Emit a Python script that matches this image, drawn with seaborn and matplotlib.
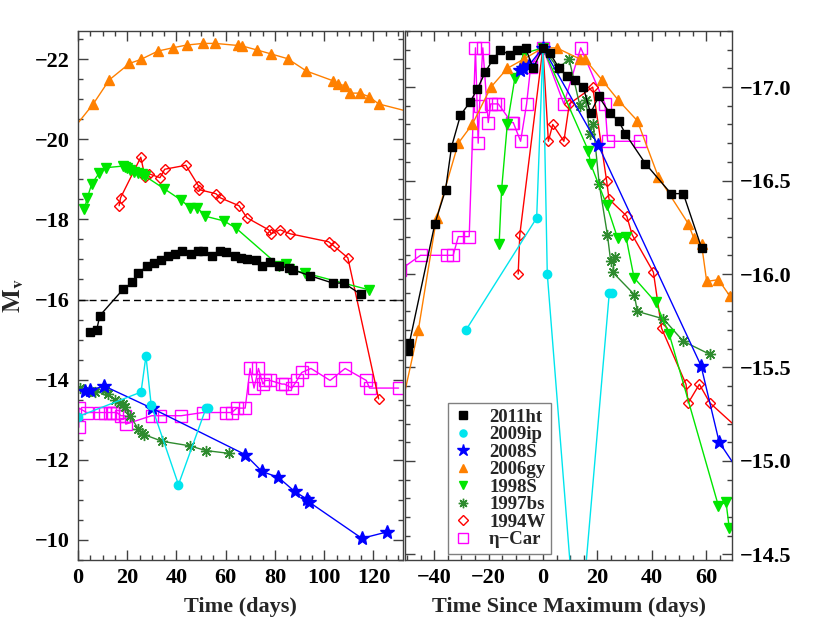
import numpy as np
import pandas as pd
import matplotlib
matplotlib.use("Agg")
import matplotlib.pyplot as plt
import seaborn as sns
from matplotlib.lines import Line2D
from matplotlib.ticker import MultipleLocator
from matplotlib.font_manager import FontProperties

# ---- left panel: absolute light curves (days, M_v) ----
ht_t = [4.9, 7.6, 8.9, 18.4, 22.1, 24.5, 27.9, 31.0, 33.6, 36.7, 39.4, 42.4, 45.7, 48.6, 50.9,
        54.3, 57.5, 60.2, 63.6, 66.3, 68.7, 72.2, 74.7, 78.0, 81.7, 85.8, 87.3, 94.4, 103.5, 108.0, 114.8]
ht_m = [-15.18, -15.25, -15.60, -16.26, -16.43, -16.66, -16.83, -16.91, -16.98, -17.08, -17.14, -17.20,
        -17.14, -17.20, -17.20, -17.08, -17.20, -17.18, -17.08, -17.04, -17.02, -16.98, -16.84, -16.93,
        -16.84, -16.78, -16.74, -16.59, -16.41, -16.41, -16.13]

ip_t = [0.1, 25.6, 27.6, 29.7, 40.8, 52.0, 53.0]
ip_m = [-13.08, -13.69, -14.59, -13.38, -11.38, -13.29, -13.29]

s08_t = [2.9, 4.9, 10.7, 29.9, 67.9, 74.7, 81.4, 88.0, 93.2, 94.0, 115.3, 125.5]
s08_m = [-13.71, -13.74, -13.84, -13.29, -12.13, -11.71, -11.56, -11.21, -11.01, -10.94, -10.04, -10.20]

gy_t = [-2.0, 6.2, 12.7, 20.9, 25.5, 32.5, 38.4, 44.2, 50.8, 55.7, 64.8, 66.5, 72.5, 78.3, 85.1,
        92.8, 103.5, 105.6, 108.4, 110.6, 114.4, 118.3, 122.1, 140.0]
gy_m = [-20.25, -20.88, -21.48, -21.89, -21.99, -22.20, -22.28, -22.35, -22.39, -22.39, -22.34, -22.33,
        -22.23, -22.13, -22.01, -21.70, -21.46, -21.37, -21.34, -21.15, -21.15, -21.06, -20.88, -20.60]

s98_t = [2.6, 3.8, 5.6, 8.7, 11.4, 18.4, 19.1, 20.0, 21.1, 22.9, 24.5, 25.9, 27.2, 35.1, 41.9, 45.5,
         48.5, 51.6, 59.3, 64.2, 81.7, 84.4, 85.5, 92.3, 118.3]
s98_m = [-18.26, -18.54, -18.89, -19.16, -19.29, -19.33, -19.31, -19.27, -19.23, -19.18, -19.16, -19.13,
         -19.08, -18.76, -18.48, -18.29, -18.29, -18.08, -17.96, -17.78, -16.84, -16.88, -16.76, -16.66, -16.24]

bs_t = [0.8, 4.9, 6.9, 11.0, 12.3, 15.0, 17.1, 18.4, 19.1, 21.1, 24.5, 25.9, 26.8, 34.3, 45.3, 52.0, 61.5]
bs_m = [-13.79, -13.71, -13.68, -13.74, -13.64, -13.49, -13.43, -13.39, -13.33, -13.10, -12.77, -12.68,
        -12.63, -12.46, -12.35, -12.23, -12.16]

w94_t = [16.7, 17.3, 25.5, 27.2, 28.7, 33.3, 35.2, 43.8, 48.9, 49.3, 56.0, 57.7, 65.4, 68.6, 77.4, 78.5,
         82.1, 86.2, 101.8, 103.8, 109.6, 122.1]
w94_m = [-18.34, -18.54, -19.55, -19.06, -19.14, -19.04, -19.25, -19.35, -18.84, -18.74, -18.64, -18.54,
         -18.34, -18.04, -17.74, -17.64, -17.74, -17.64, -17.44, -17.34, -17.04, -13.52]

eta_t = [0.3, 0.4, 3.5, 8.9, 11.0, 13.0, 14.4, 15.7, 17.5, 19.1, 19.4, 29.9, 33.3, 41.9, 50.7, 60.2, 62.5,
         64.5, 67.9, 69.9, 71.5, 73.3, 75.1, 76.0, 78.0, 82.8, 83.9, 86.9, 88.9, 90.9, 94.6, 102.4, 108.5,
         117.1, 118.4, 130.2]
eta_m = [-12.81, -13.29, -13.18, -13.18, -13.18, -13.18, -13.18, -13.18, -13.10, -13.10, -12.89, -13.10,
         -13.10, -13.10, -13.18, -13.18, -13.18, -13.29, -13.29, -14.28, -13.79, -14.28, -13.89, -13.98,
         -13.98, -13.89, -13.89, -13.79, -13.98, -14.18, -14.28, -13.98, -14.28, -13.98, -13.79, -13.79]

# ---- right panel: curves shifted to a common maximum ----
ht_rt = [-49.5, -49.1, -39.7, -35.8, -33.6, -30.3, -26.8, -24.1, -21.2, -18.3, -15.6, -12.1, -9.4, -6.4,
         -3.6, 0, 2.6, 6.0, 8.9, 11.8, 14.8, 17.5, 20.5, 24.6, 27.8, 30.3, 37.7, 47.1, 51.6, 58.3]
ht_rm = [-15.59, -15.63, -16.27, -16.45, -16.68, -16.85, -16.92, -16.99, -17.08, -17.15, -17.20, -17.17,
         -17.20, -17.21, -17.10, -17.21, -17.18, -17.10, -17.06, -17.04, -17.00, -16.86, -16.95, -16.86,
         -16.82, -16.75, -16.59, -16.43, -16.43, -16.14]

ip_rt = [-28.3, -2.3, 0, 1.6, 12.8, 24.4, 25.3]
ip_rm = [-15.70, -16.30, -17.21, -16.00, -13.93, -15.90, -15.90]

s08_rt = [-8.3, -7.4, -5.0, 0, 20.3, 58.1, 64.8, 74.0]
s08_rm = [-17.09, -17.10, -17.12, -17.21, -16.69, -15.51, -15.10, -14.90]

gy_rt = [-53.0, -45.8, -39.1, -31.1, -26.0, -19.1, -13.1, -7.0, 0, 5.0, 13.6, 15.4, 21.6, 27.7, 34.7,
         42.4, 53.4, 55.5, 58.3, 60.2, 64.5, 68.8, 73.0]
gy_rm = [-15.22, -15.70, -16.30, -16.70, -16.80, -17.00, -17.10, -17.15, -17.21, -17.21, -17.15, -17.15,
         -17.04, -16.93, -16.82, -16.52, -16.27, -16.19, -16.16, -15.96, -15.97, -15.88, -15.80]

s98_rt = [-16.1, -15.2, -13.1, -10.3, -7.0, 0, 16.7, 17.5, 23.4, 27.5, 30.5, 33.5, 41.4, 46.4, 64.5, 67.3, 68.5]
s98_rm = [-16.16, -16.45, -16.80, -17.05, -17.18, -17.21, -16.66, -16.59, -16.37, -16.19, -16.20, -15.98,
          -15.85, -15.68, -14.76, -14.78, -14.64]

bs_rt = [0, 5.6, 9.6, 13.6, 15.8, 17.2, 18.5, 20.7, 23.7, 24.9, 26.5, 25.6, 33.6, 34.7, 44.3, 51.6, 61.4]
bs_rm = [-17.21, -17.10, -17.15, -16.90, -16.93, -16.75, -16.80, -16.48, -16.21, -16.07, -16.09, -16.01,
         -15.89, -15.80, -15.76, -15.64, -15.57]

w94_rt = [-9.1, -8.5, 0, 2.0, 3.6, 7.7, 9.7, 18.3, 23.4, 24.3, 30.8, 32.8, 40.6, 43.6, 52.6, 53.4, 57.5, 61.4, 75.0]
w94_rm = [-16.00, -16.21, -17.21, -16.71, -16.80, -16.71, -16.91, -17.00, -16.50, -16.40, -16.31, -16.21,
          -16.01, -15.71, -15.41, -15.31, -15.41, -15.31, -15.13]

eta_rt = [-52.7, -45.0, -35.4, -33.0, -31.1, -27.1, -24.8, -23.8, -23.3, -22.1, -20.1, -19.2, -17.6, -16.4,
          -11.5, -10.9, -8.2, -6.0, -4.5, 0, 7.7, 13.9, 22.8, 23.8, 35.7]
eta_rm = [-16.02, -16.10, -16.10, -16.10, -16.20, -16.20, -17.21, -16.70, -16.90, -17.21, -16.81, -16.91,
          -16.91, -16.91, -16.81, -16.81, -16.71, -16.91, -17.11, -17.21, -16.91, -17.21, -16.91, -16.71, -16.71]

labels = ["2011ht", "2009ip", "2008S", "2006gy", "1998S", "1997bs", "1994W", "η−Car"]

sns.set_style("ticks")
plt.rcParams["font.family"] = ["Liberation Serif", "DejaVu Serif"]
plt.rcParams["font.weight"] = "bold"
plt.rcParams["mathtext.fontset"] = "stix"
plt.rcParams["axes.edgecolor"] = "#404040"
plt.rcParams["xtick.color"] = "#404040"
plt.rcParams["ytick.color"] = "#404040"
plt.rcParams["xtick.labelcolor"] = "black"
plt.rcParams["ytick.labelcolor"] = "black"

# marker styles per object (color, marker, size, filled)
styles = {
    "2011ht": ("black", "s", 6, True),
    "2009ip": ("#00e5ee", "o", 6, True),
    "2008S": ("#0000ff", "*", 10, True),
    "2006gy": ("#ff8000", "^", 6.5, True),
    "1998S": ("#00e600", "v", 6.5, True),
    "1997bs": ("#2e8b2e", (8, 2, 0), 8, True),
    "1994W": ("#ff0000", "D", 5.5, False),
    "η−Car": ("#ff00ff", "s", 8, False),
}

left_data = [(ht_t, ht_m), (ip_t, ip_m), (s08_t, s08_m), (gy_t, gy_m), (s98_t, s98_m),
             (bs_t, bs_m), (w94_t, w94_m), (eta_t, eta_m)]
right_data = [(ht_rt, ht_rm), (ip_rt, ip_rm), (s08_rt, s08_rm), (gy_rt, gy_rm), (s98_rt, s98_rm),
              (bs_rt, bs_rm), (w94_rt, w94_rm), (eta_rt, eta_rm)]

fig = plt.figure(figsize=(8.17, 6.23), dpi=100)
ax1 = fig.add_axes([78 / 817, 63 / 623, 325 / 817, 529 / 623])
ax2 = fig.add_axes([405 / 817, 63 / 623, 327 / 817, 529 / 623])


def draw(ax, data):
    # draw from the bottom of the legend list up, so black ends on top
    for name, (t, m) in reversed(list(zip(labels, data))):
        c, mk, ms, filled = styles[name]
        df = pd.DataFrame({"t": t, "m": m})
        sns.lineplot(data=df, x="t", y="m", ax=ax, sort=False, estimator=None, color=c,
                     lw=1.0, marker=mk, markersize=ms, mec=c, mew=1.0,
                     mfc=c if filled else "none", legend=False)


draw(ax1, left_data)
draw(ax2, right_data)

ax1.axhline(-16, color="black", ls="--", lw=1.0, dashes=(5, 3))

ax1.set_xlim(0, 132)
ax1.set_ylim(-9.5, -22.7)
ax2.set_xlim(-50.7, 69.5)
ax2.set_ylim(-14.47, -17.30)

ax1.xaxis.set_major_locator(MultipleLocator(20))
ax1.xaxis.set_minor_locator(MultipleLocator(5))
ax1.yaxis.set_major_locator(MultipleLocator(2))
ax1.yaxis.set_minor_locator(MultipleLocator(0.5))
ax2.xaxis.set_major_locator(MultipleLocator(20))
ax2.xaxis.set_minor_locator(MultipleLocator(5))
ax2.yaxis.set_major_locator(MultipleLocator(0.5))
ax2.yaxis.set_minor_locator(MultipleLocator(0.1))
ax1.xaxis.set_major_formatter(lambda v, p: f"{v:.0f}".replace("-", "\u2212"))
ax1.yaxis.set_major_formatter(lambda v, p: f"{v:.0f}".replace("-", "\u2212"))
ax2.xaxis.set_major_formatter(lambda v, p: f"{v:.0f}".replace("-", "\u2212"))
ax2.yaxis.set_major_formatter(lambda v, p: f"{v:.1f}".replace("-", "\u2212"))

for ax in (ax1, ax2):
    ax.tick_params(which="both", direction="in", top=True, right=True, left=True, bottom=True,
                   width=1.0, labelsize=16, pad=6)
    ax.tick_params(which="major", length=7)
    ax.tick_params(which="minor", length=3.5)
    for s in ax.spines.values():
        s.set_linewidth(1.0)

ax2.tick_params(axis="y", which="both", labelleft=False, labelright=True)

ax1.set_xlabel("Time (days)", fontsize=16, fontweight="bold", labelpad=6)
ax2.set_xlabel("Time Since Maximum (days)", fontsize=16, fontweight="bold", labelpad=6)
ax1.set_ylabel(r"$\mathbf{M}_{\mathrm{v}}$", fontsize=18, labelpad=6)
ax2.set_ylabel("")

handles = []
for name in labels:
    c, mk, ms, filled = styles[name]
    handles.append(Line2D([], [], ls="none", marker=mk, color=c, mec=c, mew=1.0,
                          mfc=c if filled else "none",
                          markersize=ms * 0.85 if name != "2008S" else 9))
leg = ax2.legend(handles, labels, loc="lower left", bbox_to_anchor=(0.1315, 0.0113), borderaxespad=0,
                 frameon=True, fancybox=False, edgecolor="#808080", framealpha=1,
                 handlelength=1.0, handletextpad=0.9, labelspacing=0.02, borderpad=0.3,
                 prop={"family": ["Liberation Serif", "DejaVu Serif"], "weight": "bold", "size": 13.5})
leg.get_frame().set_linewidth(1.0)

tick_font = FontProperties(family="Liberation Serif", weight="bold", size=16)
fig.canvas.draw()
for ax in (ax1, ax2):
    for tick in ax.xaxis.get_major_ticks() + ax.yaxis.get_major_ticks():
        tick.label1.set_fontproperties(tick_font)
        tick.label2.set_fontproperties(tick_font)

fig.savefig("out.png", dpi=100)
